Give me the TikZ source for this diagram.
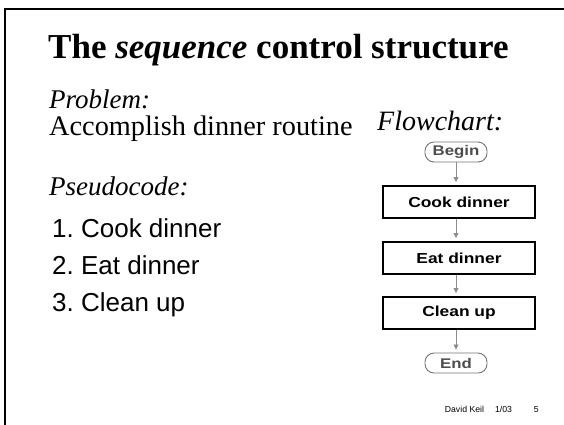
\documentclass[tikz,border=0pt]{standalone}
\usepackage{fontspec}
\setmainfont{Liberation Serif}
\setsansfont{Liberation Sans}
\newfontfamily\chartfont[FakeStretch=1.2]{Liberation Sans}
\usetikzlibrary{arrows.meta}
\frenchspacing
\begin{document}
\begin{tikzpicture}[x=1pt,y=-1pt,
  txt/.style={anchor=base west,inner sep=0pt},
  listitem/.style={txt,font=\sffamily\fontsize{26}{30}\selectfont},
  procbox/.style={draw=black,line width=2pt,minimum width=152pt,minimum height=32pt,
    inner sep=0pt,font=\chartfont\bfseries\fontsize{14.5}{17}\selectfont},
  term/.style={draw=black!55,line width=0.9pt,rounded corners=9pt,minimum width=62pt,
    minimum height=20pt,inner sep=0pt,text=black!70,font=\chartfont\bfseries\fontsize{14}{16}\selectfont},
  flow/.style={draw=black!45,line width=0.8pt,shorten >=3pt,
    -{Triangle[length=5pt,width=5pt]}}]
\useasboundingbox (0,0) rectangle (564,424);
% slide frame, open towards the right and bottom edges
\draw[line width=2pt] (5,425) -- (5,9) -- (565,9);

% title and text column
\node[txt,font=\bfseries\fontsize{35}{40}\selectfont] (title) at (48,58)
  {The \textit{sequence} control structure};
\node[txt,font=\itshape\fontsize{27}{32}\selectfont] (prob) at (49,108) {Problem:};
\node[txt,font=\fontsize{28.3}{32}\selectfont] (task) at (49,135) {Accomplish dinner routine};
\node[txt,font=\itshape\fontsize{27}{32}\selectfont] (pseudo) at (49,195) {Pseudocode:};
\node[listitem] (s1) at (52,237) {1. Cook dinner};
\node[listitem] (s2) at (52,274) {2. Eat dinner};
\node[listitem] (s3) at (52,311) {3. Clean up};

% flowchart
\node[txt,font=\itshape\fontsize{28}{32}\selectfont] (fclabel) at (377,130) {Flowchart:};
\node[term] (begin) at (456,152) {Begin};
\node[procbox] (cook) at (459,202) {Cook dinner};
\node[procbox] (eat) at (459,258) {Eat dinner};
\node[procbox] (clean) at (459,313) {Clean up};
\node[term] (end) at (456,363) {End};

\draw[flow] (begin.south) -- (begin.south |- cook.north);
\draw[flow] (cook.south -| begin.south) -- (begin.south |- eat.north);
\draw[flow] (eat.south -| begin.south) -- (begin.south |- clean.north);
\draw[flow] (clean.south -| begin.south) -- (end.north);

% footer
\node[anchor=base east,inner sep=0pt,font=\sffamily\fontsize{8.7}{10}\selectfont] (foot) at (539,412)
  {David Keil\hspace{11pt}1/03\hspace{22pt}5};
\end{tikzpicture}
\end{document}
